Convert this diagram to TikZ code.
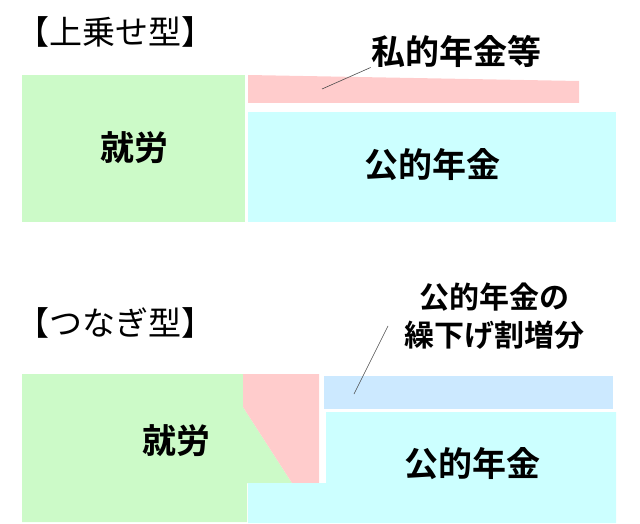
\documentclass[tikz,border=0pt]{standalone}
\usepackage{fontspec}
\newfontfamily\jpfont{Noto Sans CJK JP}
\newfontfamily\jpbold{Noto Sans CJK JP Bold}
\definecolor{workgreen}{HTML}{CCFAC8}
\definecolor{privpink}{HTML}{FFCCCC}
\definecolor{pubcyan}{HTML}{CCFFFF}
\definecolor{deferblue}{HTML}{CCE9FF}
\tikzset{every picture/.style={line width=0.75pt}}
\tikzset{
  title/.style={anchor=west, inner sep=0pt, font=\jpfont\fontsize{33}{36}\selectfont},
  label/.style={inner sep=0pt, font=\jpbold\fontsize{34}{38}\selectfont, align=center},
  smalllabel/.style={inner sep=0pt, font=\jpbold\fontsize{30}{38}\selectfont, align=center},
  leader/.style={draw=black!70, line width=0.6pt}
}

\begin{document}
\begin{tikzpicture}[x=1pt,y=1pt,yscale=-1]
\useasboundingbox (0,0) rectangle (640,524);

%Upper type
\node[title] (titleA) at (16,32) {【上乗せ型】};
\fill[workgreen] (22,75) rectangle (245,222);
\fill[privpink] (248,75) -- (579,81) -- (579,103) -- (248,103) -- cycle;
\fill[pubcyan] (248,112) rectangle (616,222);
\node[label] (workA) at (134,148) {就労};
\node[label] (pubA) at (432,165) {公的年金};
\node[label] (privA) at (456,51) {私的年金等};
\coordinate (privAend) at (322,89);
\draw[leader] (privAend) -- (privA.south west);

%Bridging type
\node[title] (titleB) at (16,323) {【つなぎ型】};
\fill[workgreen] (22,374) -- (243,374) -- (243,407) -- (292,483) -- (247,483) -- (247,522) -- (22,522) -- cycle;
\fill[privpink] (243,374) -- (319,374) -- (319,483) -- (292,483) -- (243,407) -- cycle;
\fill[deferblue] (324,376) rectangle (613,409);
\fill[pubcyan] (326,412) -- (616,412) -- (616,523) -- (248,523) -- (248,483) -- (326,483) -- cycle;
\node[label] (workB) at (176,441) {就労};
\node[label] (pubB) at (472,464) {公的年金};
\node[smalllabel] (deferB) at (494,316) {公的年金の\\繰下げ割増分};
\coordinate (deferBend) at (354,394);
\coordinate (deferBtip) at (388,326);
\draw[leader] (deferBend) -- (deferBtip);

\end{tikzpicture}
\end{document}
